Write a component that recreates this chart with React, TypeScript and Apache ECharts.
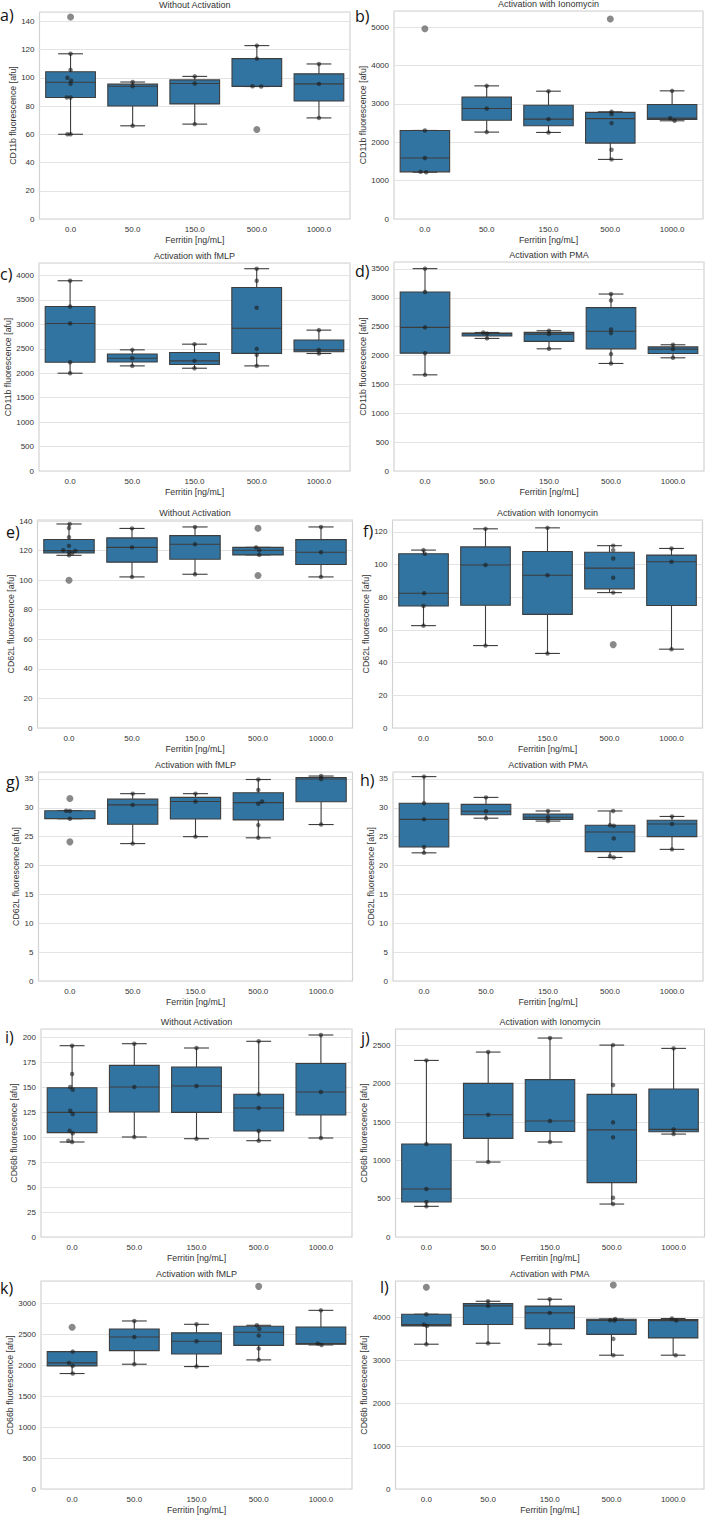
import { useEffect, useRef } from "react";
import * as echarts from "echarts";

const CATEGORIES = ["0.0", "50.0", "150.0", "500.0", "1000.0"];
const X_NAME = "Ferritin [ng/mL]";
const TITLES = ["Without Activation", "Activation with Ionomycin", "Activation with fMLP", "Activation with PMA"];
const Y_NAMES = ["CD11b fluorescence [afu]", "CD62L fluorescence [afu]", "CD66b fluorescence [afu]"];
const LETTERS = ["a)", "b)", "c)", "d)", "e)", "f)", "g)", "h)", "i)", "j)", "k)", "l)"];

// Box statistics per ferritin level: [lower whisker, Q1, median, Q3, upper whisker]
// Individual measurements: [category index, value, horizontal jitter]
// Fliers: [category index, value, horizontal jitter]

// CD11b, no activation
const A_BOX = [[60, 86, 96.8, 104.3, 117], [66, 80, 94, 95.5, 97], [67.2, 81.5, 96, 98.5, 101], [93.8, 93.8, 94, 113.6, 122.8], [71.6, 83.6, 95.7, 102.8, 109.8]];
const A_PTS = [[0, 117, 0], [0, 105.6, 0], [0, 100, -0.05], [0, 98, 0.01], [0, 95.7, 0], [0, 86, -0.06], [0, 86, 0], [0, 60, -0.05], [0, 60, 0], [1, 97, 0], [1, 94, 0], [1, 66, 0], [2, 101, 0], [2, 96, 0], [2, 67.2, 0], [3, 122.8, 0], [3, 113.6, 0], [3, 94, -0.07], [3, 93.8, 0.07], [4, 109.8, 0], [4, 95.7, 0], [4, 71.6, 0]];
const A_OUT = [[0, 143, 0], [3, 63.4, 0]];

// CD11b, ionomycin
const B_BOX = [[1220, 1230, 1589, 2309, 2309], [2266, 2574, 2882, 3177, 3472], [2257, 2430, 2604, 2968, 3333], [1554, 1979, 2617, 2780, 2795], [2561, 2595, 2630, 2986, 3342]];
const B_PTS = [[0, 2309, 0], [0, 1589, 0], [0, 1230, -0.07], [0, 1220, 0.02], [1, 3472, 0], [1, 2882, 0], [1, 2266, 0], [2, 3333, 0], [2, 2604, 0], [2, 2257, 0], [3, 2795, 0.02], [3, 2734, 0.02], [3, 2500, 0.02], [3, 1806, 0.02], [3, 1554, 0.02], [4, 3342, 0], [4, 2630, -0.03], [4, 2561, 0.04]];
const B_OUT = [[0, 4960, 0], [3, 5217, 0]];

// CD11b, fMLP
const C_BOX = [[2000, 2225, 3017, 3365, 3891], [2150, 2228, 2307, 2392, 2478], [2102, 2177, 2253, 2423, 2594], [2150, 2406, 2918, 3753, 4137], [2403, 2440, 2478, 2680, 2881]];
const C_PTS = [[0, 3891, 0], [0, 3365, 0], [0, 3017, 0], [0, 2225, 0], [0, 2000, 0], [1, 2478, 0], [1, 2307, 0], [1, 2150, 0], [2, 2594, 0], [2, 2253, 0], [2, 2102, 0], [3, 4137, 0], [3, 3891, 0], [3, 3338, 0], [3, 2498, 0], [3, 2375, 0], [3, 2150, 0], [4, 2881, 0], [4, 2478, 0], [4, 2403, 0]];
const C_OUT: number[][] = [];

// CD11b, PMA
const D_BOX = [[1666, 2042, 2488, 3101, 3506], [2297, 2338, 2380, 2390, 2400], [2117, 2245, 2372, 2401, 2430], [1863, 2116, 2421, 2830, 3066], [1961, 2036, 2112, 2150, 2187]];
const D_PTS = [[0, 3506, 0], [0, 3101, 0], [0, 2488, 0], [0, 2042, 0], [0, 1666, 0], [1, 2400, -0.06], [1, 2380, 0], [1, 2297, 0], [2, 2430, 0], [2, 2372, 0], [2, 2117, 0], [3, 3066, 0], [3, 2956, 0], [3, 2453, 0], [3, 2389, 0], [3, 2025, 0], [3, 1863, 0], [4, 2187, 0], [4, 2112, 0], [4, 1961, 0]];
const D_OUT: number[][] = [];

// CD62L, no activation
const E_BOX = [[116.8, 118.4, 120, 127.55, 138], [102.2, 112.2, 122.2, 128.6, 135], [104, 114.15, 124.3, 130.15, 136], [117.1, 117.1, 120.2, 122.2, 122.2], [102.2, 110.55, 118.9, 127.45, 136]];
const E_PTS = [[0, 138, 0.01], [0, 135.3, 0], [0, 129, 0], [0, 123.2, 0], [0, 120.2, -0.09], [0, 119.8, 0.1], [0, 119, 0], [0, 118.2, 0.05], [0, 116.8, 0], [1, 135, 0], [1, 122.2, 0], [1, 102.2, 0], [2, 136, 0], [2, 124.3, 0], [2, 104, 0], [3, 122.2, -0.03], [3, 120.2, 0.02], [3, 117.1, 0.02], [4, 136, 0], [4, 118.9, 0], [4, 102.2, 0]];
const E_OUT = [[0, 100, 0], [3, 135.1, 0], [3, 103.1, 0]];

// CD62L, ionomycin
const F_BOX = [[62.6, 74.6, 82.4, 106.6, 108.8], [50.4, 75.05, 99.7, 110.75, 121.8], [45.6, 69.5, 93.4, 107.9, 122.4], [82.8, 85.1, 97.8, 107.5, 111.5], [48.2, 74.95, 101.7, 105.75, 109.8]];
const F_PTS = [[0, 108.8, 0], [0, 106.6, 0.02], [0, 82.4, 0.01], [0, 74.6, 0], [0, 62.6, 0], [1, 121.8, 0], [1, 99.7, 0], [1, 50.4, 0], [2, 122.4, 0], [2, 93.4, 0], [2, 45.6, 0], [3, 111.5, 0.06], [3, 108.8, 0.06], [3, 103.7, 0.06], [3, 91.9, 0.06], [3, 82.8, 0.06], [4, 109.8, 0], [4, 101.7, 0], [4, 48.2, 0]];
const F_OUT = [[3, 51, 0.06]];

// CD62L, fMLP
const G_BOX = [[28.1, 28.1, 28.15, 29.5, 29.5], [23.8, 27.15, 30.5, 31.5, 32.45], [25, 28.05, 31.1, 31.8, 32.45], [24.8, 27.9, 30.9, 32.6, 34.9], [27.1, 31.05, 35, 35.25, 35.5]];
const G_PTS = [[0, 29.5, -0.06], [0, 29.45, 0], [0, 28.1, 0], [1, 32.45, 0], [1, 30.5, 0], [1, 23.8, 0], [2, 32.45, 0], [2, 31.1, 0], [2, 25, 0], [3, 34.9, 0], [3, 33.1, 0], [3, 31.1, 0.06], [3, 30.7, 0], [3, 27, 0], [3, 24.8, 0], [4, 35.5, 0], [4, 35, 0], [4, 27.1, 0]];
const G_OUT = [[0, 31.6, 0], [0, 24.1, 0]];

// CD62L, PMA
const H_BOX = [[22.2, 23.2, 28, 30.8, 35.4], [28.2, 28.8, 29.4, 30.6, 31.8], [27.7, 28.0, 28.35, 28.9, 29.45], [21.4, 22.4, 25.8, 26.98, 29.45], [22.8, 25, 27.2, 27.85, 28.5]];
const H_PTS = [[0, 35.4, 0], [0, 30.8, 0], [0, 28, 0], [0, 23.2, 0], [0, 22.2, 0], [1, 31.8, 0], [1, 29.4, 0], [1, 28.2, 0], [2, 29.45, 0], [2, 28.35, 0], [2, 27.7, 0], [3, 29.45, 0.05], [3, 27, 0], [3, 26.9, 0.06], [3, 24.7, 0.06], [3, 21.6, 0], [3, 21.4, 0.06], [4, 28.5, 0], [4, 27.2, 0], [4, 22.8, 0]];
const H_OUT: number[][] = [];

// CD66b, no activation
const I_BOX = [[95, 104.35, 124.65, 149.3, 191.3], [100, 125, 150, 171.65, 193.3], [98.3, 124.65, 151, 170, 189], [96.3, 106, 129, 142.7, 195.7], [99, 122, 145, 173.5, 202]];
const I_PTS = [[0, 191.3, 0], [0, 163, 0], [0, 150, -0.03], [0, 147.3, 0.01], [0, 126.3, -0.03], [0, 123, 0.01], [0, 106.3, -0.04], [0, 103.7, 0.01], [0, 96.3, -0.06], [0, 95, 0], [1, 193.3, 0], [1, 150, 0], [1, 100, 0], [2, 189, 0], [2, 151, 0], [2, 98.3, 0], [3, 195.7, 0], [3, 142.7, 0], [3, 129, 0], [3, 106, 0], [3, 96.3, 0], [4, 202, 0], [4, 145, 0], [4, 99, 0]];
const I_OUT: number[][] = [];

// CD66b, ionomycin
const J_BOX = [[400, 457, 626, 1213, 2304], [978, 1287, 1596, 2004, 2413], [1239, 1376, 1513, 2054, 2596], [430, 710, 1398, 1861, 2504], [1343, 1373, 1404, 1932, 2461]];
const J_PTS = [[0, 2304, 0], [0, 1213, 0], [0, 626, 0], [0, 457, 0], [0, 400, 0], [1, 2413, 0], [1, 1596, 0], [1, 978, 0], [2, 2596, 0], [2, 1513, 0], [2, 1239, 0], [3, 2504, 0.02], [3, 1983, 0.02], [3, 1496, 0.02], [3, 1300, 0.02], [3, 513, 0.02], [3, 430, 0.02], [4, 2461, 0], [4, 1404, 0], [4, 1343, 0]];
const J_OUT: number[][] = [];

// CD66b, fMLP
const K_BOX = [[1869, 1993, 2041, 2224, 2224], [2020, 2240, 2461, 2590, 2720], [1982, 2186, 2391, 2528, 2666], [2090, 2325, 2537, 2635, 2650], [2332, 2343, 2354, 2623, 2892]];
const K_PTS = [[0, 2224, 0.01], [0, 2041, -0.05], [0, 1993, 0.01], [0, 1869, 0.01], [1, 2720, 0], [1, 2461, 0], [1, 2020, 0], [2, 2666, 0], [2, 2391, 0], [2, 1982, 0], [3, 2650, -0.03], [3, 2591, 0.01], [3, 2483, 0], [3, 2273, 0], [3, 2090, 0], [4, 2892, 0], [4, 2354, -0.05], [4, 2332, 0.01]];
const K_OUT = [[0, 2618, 0], [3, 3280, 0]];

// CD66b, PMA
const L_BOX = [[3372, 3798, 3829, 4070, 4070], [3395, 3830, 4264, 4318, 4372], [3372, 3736, 4101, 4260, 4419], [3116, 3602, 3926, 3953, 3961], [3116, 3519, 3922, 3945, 3969]];
const L_PTS = [[0, 4070, 0], [0, 3829, -0.04], [0, 3798, 0.01], [0, 3372, 0], [1, 4372, 0], [1, 4264, 0], [1, 3395, 0], [2, 4419, 0], [2, 4101, 0], [2, 3372, 0], [3, 3961, 0.06], [3, 3930, -0.02], [3, 3922, 0.05], [3, 3496, 0.03], [3, 3116, 0.03], [4, 3969, -0.02], [4, 3922, 0.05], [4, 3116, 0.04]];
const L_OUT = [[0, 4698, 0], [3, 4752, 0.03]];

// y-axis upper limits and tick steps per panel
const Y_MAX = [146.6, 5424, 4254, 3621, 140.7, 127.2, 36.2, 36.2, 208, 2714, 3367, 4844];
const Y_STEP = [20, 1000, 500, 500, 20, 20, 5, 5, 25, 500, 500, 1000];

const BOXES = [A_BOX, B_BOX, C_BOX, D_BOX, E_BOX, F_BOX, G_BOX, H_BOX, I_BOX, J_BOX, K_BOX, L_BOX];
const POINTS = [A_PTS, B_PTS, C_PTS, D_PTS, E_PTS, F_PTS, G_PTS, H_PTS, I_PTS, J_PTS, K_PTS, L_PTS];
const FLIERS = [A_OUT, B_OUT, C_OUT, D_OUT, E_OUT, F_OUT, G_OUT, H_OUT, I_OUT, J_OUT, K_OUT, L_OUT];

// plot rectangles [left, top, width, height] in px
const LAYOUT = [
  [39.5, 12, 310.5, 207], [394, 11, 309, 208],
  [39, 263, 311, 208], [394, 262, 310, 209],
  [37.5, 520, 315, 208], [392.5, 520, 310, 208],
  [38.5, 772, 314, 209], [393, 772, 310, 209],
  [41, 1029, 311, 208], [395.5, 1029, 309, 208],
  [41, 1281, 311, 208], [395.5, 1281, 308.5, 208],
];
const LETTER_POS = [
  [0, 15], [355, 16], [0, 274], [355, 271], [6, 532], [363, 531],
  [6, 782], [360, 780], [5, 1037], [361, 1038], [0, 1288], [380, 1287],
];
const Y_NAME_GAP = [22.5, 27, 27, 27, 21.5, 21.5, 18, 18, 22.5, 27, 27, 27];

const BOX_FILL = "#3274a1";
const EDGE = "#3d3d3d";
const FRAME = "#d2d2d2";
const GRID_LINE = "#e3e3e3";
const TEXT = "#333333";
const FONT = "Liberation Sans, Arial, sans-serif";
const BOX_HALF = 0.4;
const CAP_HALF = 0.2;

export default function App() {
  const ref = useRef<HTMLDivElement>(null);

  useEffect(() => {
    if (!ref.current) return;
    const chart = echarts.init(ref.current, null, { renderer: "svg" });

    const grid: any[] = [];
    const xAxis: any[] = [];
    const yAxis: any[] = [];
    const series: any[] = [];
    const graphic: any[] = [];

    LAYOUT.forEach((rect, i) => {
      const [left, top, width, height] = rect;
      const title = TITLES[(Math.floor(i / 2) % 2) * 2 + (i % 2)];
      const yName = Y_NAMES[Math.floor(i / 4)];

      grid.push({ left, top, width, height, show: true, borderColor: FRAME, borderWidth: 1.2, backgroundColor: "#fff" });

      xAxis.push({
        gridIndex: i,
        type: "category",
        data: CATEGORIES,
        boundaryGap: true,
        axisLine: { show: false },
        axisTick: { show: false },
        splitLine: { show: false },
        axisLabel: { color: TEXT, fontSize: 8, fontFamily: FONT, margin: 6 },
        name: X_NAME,
        nameLocation: "middle",
        nameGap: 16,
        nameTextStyle: { color: TEXT, fontSize: 8.8, fontFamily: FONT },
      });
      xAxis.push({ gridIndex: i, type: "value", min: -0.5, max: 4.5, show: false });

      yAxis.push({
        gridIndex: i,
        type: "value",
        min: 0,
        max: Y_MAX[i],
        interval: Y_STEP[i],
        axisLine: { show: false },
        axisTick: { show: false },
        splitLine: { show: true, lineStyle: { color: GRID_LINE, width: 1 } },
        axisLabel: {
          color: TEXT,
          fontSize: 8,
          fontFamily: FONT,
          margin: 5,
          showMaxLabel: false,
          formatter: (v: number) => String(v),
        },
        name: yName,
        nameLocation: "middle",
        nameGap: Y_NAME_GAP[i],
        nameTextStyle: { color: TEXT, fontSize: 8.8, fontFamily: FONT },
      });

      series.push({
        type: "custom",
        xAxisIndex: 2 * i + 1,
        yAxisIndex: i,
        z: 2,
        silent: true,
        data: BOXES[i].map((b, c) => [c, ...b]),
        encode: { x: 0, y: [1, 2, 3, 4, 5] },
        renderItem: (_params: any, api: any) => {
          const c = api.value(0);
          const lo = api.value(1);
          const q1 = api.value(2);
          const med = api.value(3);
          const q3 = api.value(4);
          const hi = api.value(5);
          const [xc, yLo] = api.coord([c, lo]);
          const yQ1 = api.coord([c, q1])[1];
          const yMed = api.coord([c, med])[1];
          const yQ3 = api.coord([c, q3])[1];
          const yHi = api.coord([c, hi])[1];
          const xL = api.coord([c - BOX_HALF, q1])[0];
          const xR = api.coord([c + BOX_HALF, q1])[0];
          const cL = api.coord([c - CAP_HALF, lo])[0];
          const cR = api.coord([c + CAP_HALF, lo])[0];
          const line = (x1: number, y1: number, x2: number, y2: number) => ({
            type: "line",
            shape: { x1, y1, x2, y2 },
            style: { stroke: EDGE, lineWidth: 1.1 },
          });
          return {
            type: "group",
            children: [
              line(xc, yLo, xc, yQ1),
              line(xc, yQ3, xc, yHi),
              line(cL, yLo, cR, yLo),
              line(cL, yHi, cR, yHi),
              {
                type: "rect",
                shape: { x: xL, y: yQ3, width: xR - xL, height: yQ1 - yQ3 },
                style: { fill: BOX_FILL, stroke: EDGE, lineWidth: 1.1 },
              },
              line(xL, yMed, xR, yMed),
            ],
          };
        },
      });

      series.push({
        type: "scatter",
        xAxisIndex: 2 * i + 1,
        yAxisIndex: i,
        z: 3,
        silent: true,
        symbol: "circle",
        symbolSize: 7,
        itemStyle: { color: "#6c6c6c" },
        data: FLIERS[i].map(([c, v, j]) => [c + j, v]),
      });

      series.push({
        type: "scatter",
        xAxisIndex: 2 * i + 1,
        yAxisIndex: i,
        z: 4,
        silent: true,
        symbol: "circle",
        symbolSize: 4.5,
        itemStyle: { color: "rgba(25,25,25,0.72)" },
        data: POINTS[i].map(([c, v, j]) => [c + j, v]),
      });

      graphic.push({
        type: "text",
        x: left + width / 2,
        y: top - 7,
        silent: true,
        style: {
          text: title,
          fill: TEXT,
          font: `9px ${FONT}`,
          textAlign: "center",
          textVerticalAlign: "middle",
        },
      });
      graphic.push({
        type: "text",
        x: LETTER_POS[i][0],
        y: LETTER_POS[i][1],
        silent: true,
        z: 100,
        style: {
          text: LETTERS[i],
          fill: "#111111",
          font: `16px "Open Sans", sans-serif`,
          textAlign: "left",
          textVerticalAlign: "middle",
        },
      });
    });

    chart.setOption({ animation: false, backgroundColor: "#ffffff", grid, xAxis, yAxis, series, graphic });
    return () => chart.dispose();
  }, []);

  return (
    <div
      ref={ref}
      style={{ position: "absolute", left: 0, top: 0, width: 709, height: 1515, background: "#fff" }}
    />
  );
}
